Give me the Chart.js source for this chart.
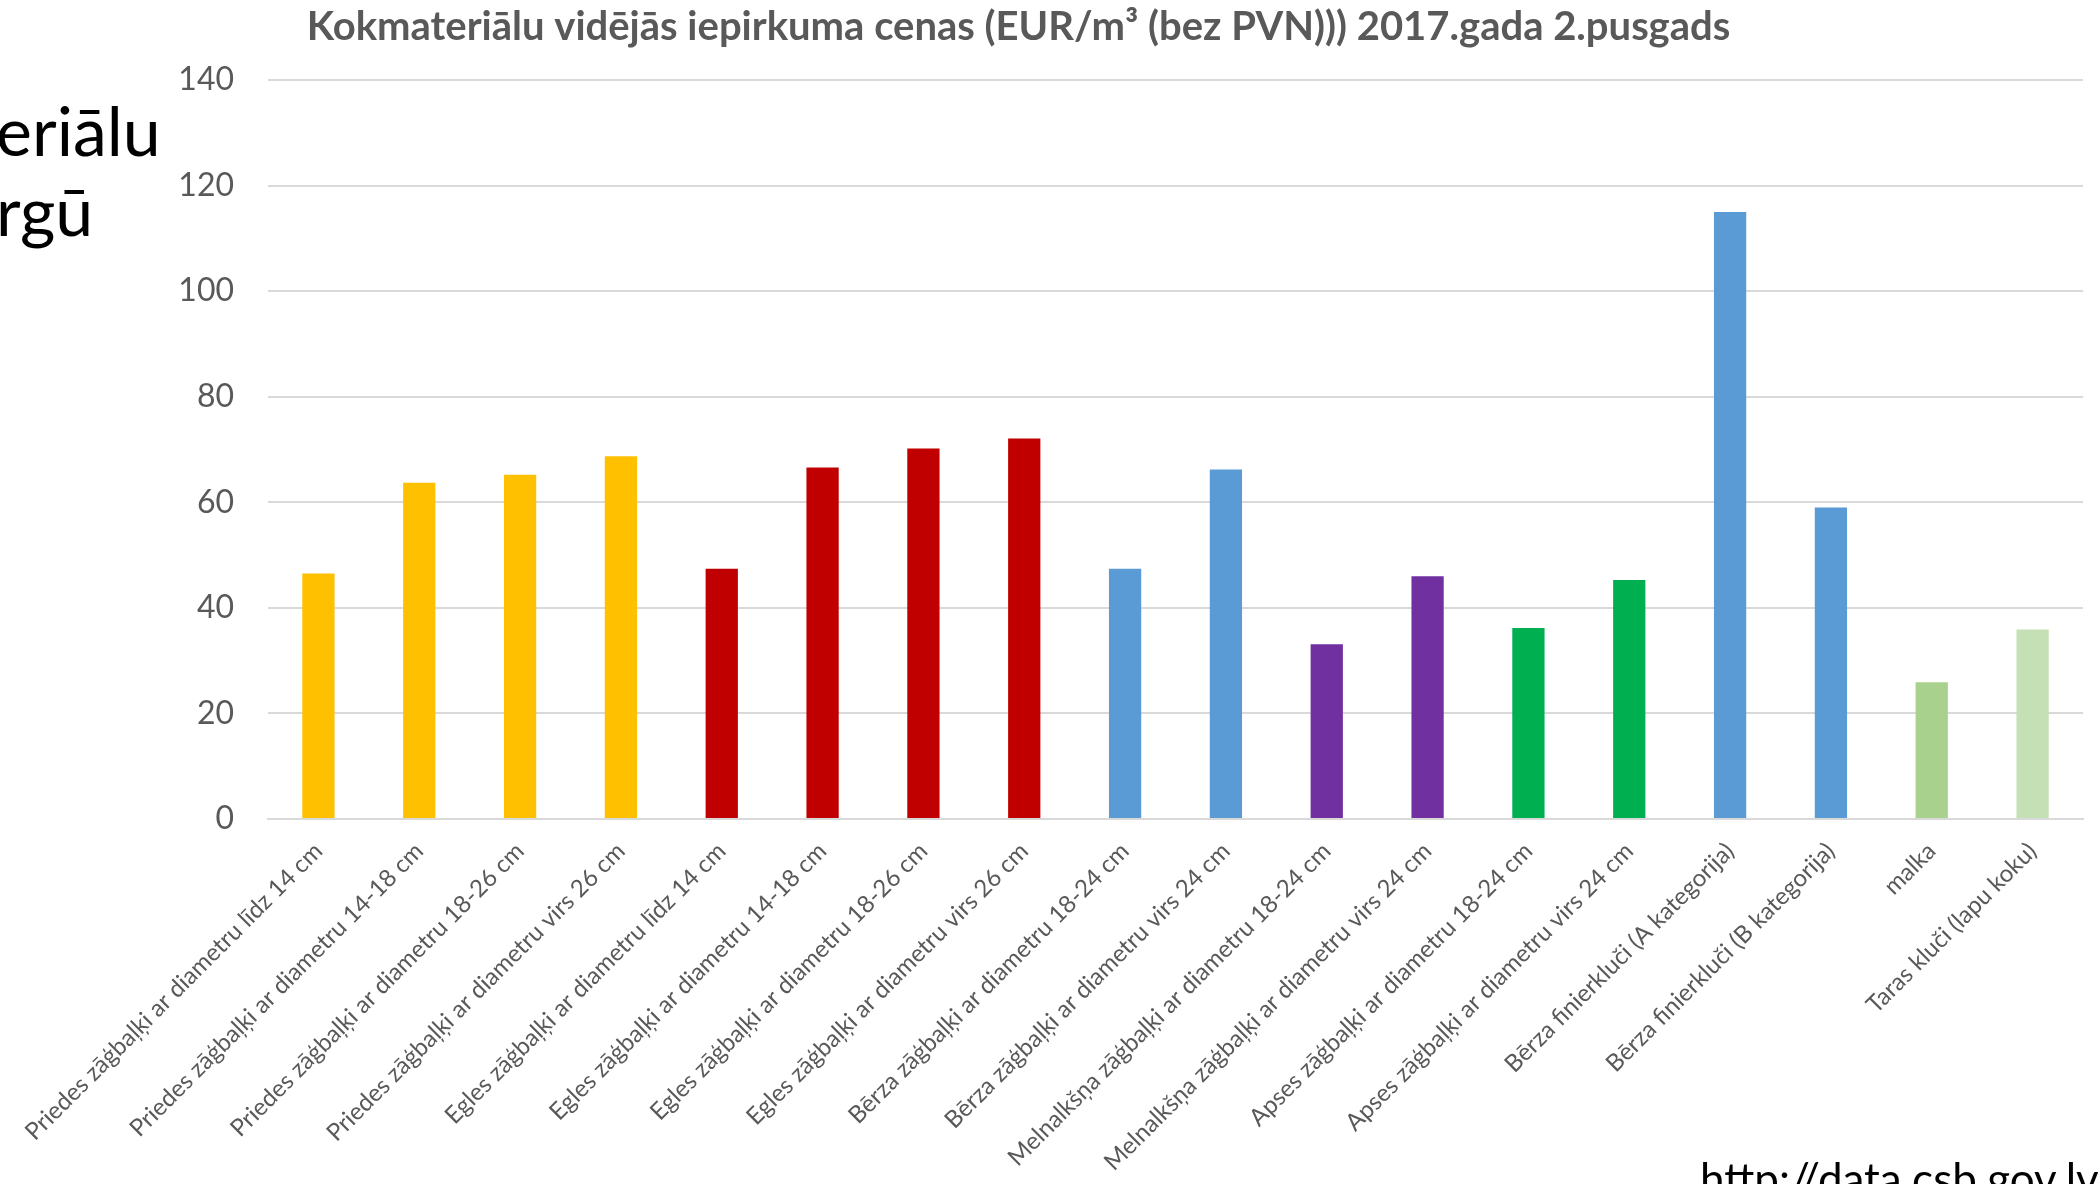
<!DOCTYPE html>
<html>
<head>
<meta charset="utf-8">
<script src="https://cdn.jsdelivr.net/npm/chart.js@4.4.1/dist/chart.umd.min.js"></script>
<style>
  html, body { margin:0; padding:0; width:2098px; height:1184px; overflow:hidden; background:#fff; }
  #wrap { position:absolute; left:-46px; top:0; width:2144px; height:1184px; }
  #side { position:absolute; left:-4px; top:90px; font-family:Lato, sans-serif; font-size:68px; line-height:80px; color:#000; text-align:left; white-space:nowrap; }
  #url { position:absolute; left:1700px; top:1152px; font-family:Lato, sans-serif; font-size:44px; color:#000; white-space:nowrap; }
</style>
</head>
<body>
<div id="wrap"><canvas id="c"></canvas></div>
<div id="side">eriālu<br>rgū</div>
<div id="url">http://data.csb.gov.lv</div>
<script>
const titleText = "Kokmateriālu vidējās iepirkuma cenas (EUR/m³ (bez PVN))) 2017.gada 2.pusgads";
const categories = [
  "Priedes zāģbaļķi ar diametru līdz 14 cm",
  "Priedes zāģbaļķi ar diametru 14-18 cm",
  "Priedes zāģbaļķi ar diametru 18-26 cm",
  "Priedes zāģbaļķi ar diametru virs 26 cm",
  "Egles zāģbaļķi ar diametru līdz 14 cm",
  "Egles zāģbaļķi ar diametru 14-18 cm",
  "Egles zāģbaļķi ar diametru 18-26 cm",
  "Egles zāģbaļķi ar diametru virs 26 cm",
  "Bērza zāģbaļķi ar diametru 18-24 cm",
  "Bērza zāģbaļķi ar diametru virs 24 cm",
  "Melnalkšņa zāģbaļķi ar diametru 18-24 cm",
  "Melnalkšņa zāģbaļķi ar diametru virs 24 cm",
  "Apses zāģbaļķi ar diametru 18-24 cm",
  "Apses zāģbaļķi ar diametru virs 24 cm",
  "Bērza finierkluči (A kategorija)",
  "Bērza finierkluči (B kategorija)",
  "malka",
  "Taras kluči (lapu koku)"
];
const prices = [46.5, 63.7, 65.2, 68.7, 47.4, 66.6, 70.2, 72.1, 47.4, 66.2, 33.1, 46.0, 36.2, 45.3, 115.0, 59.0, 25.9, 35.9];
const barColors = ["#FFC000","#FFC000","#FFC000","#FFC000","#C00000","#C00000","#C00000","#C00000","#5B9BD5","#5B9BD5","#7030A0","#7030A0","#00B050","#00B050","#5B9BD5","#5B9BD5","#A9D18E","#C5E0B4"];
const yTicks = [0, 20, 40, 60, 80, 100, 120, 140];

const canvas = document.getElementById('c');
canvas.width = 2144; canvas.height = 1184;
canvas.style.width = '2144px'; canvas.style.height = '1184px';

new Chart(canvas, {
  type: 'bar',
  data: {
    labels: categories,
    datasets: [{
      data: prices,
      backgroundColor: barColors,
      borderWidth: 0,
      barPercentage: 0.32,
      categoryPercentage: 1.0
    }]
  },
  options: {
    responsive: false,
    animation: false,
    devicePixelRatio: 1,
    layout: { padding: { left: 0, right: 15, top: 0, bottom: 0 } },
    plugins: {
      legend: { display: false },
      tooltip: { enabled: false },
      title: {
        display: true,
        text: titleText,
        color: '#595959',
        font: { family: 'Lato', size: 40, weight: 'bold' },
        padding: { top: 3, bottom: 29 }
      }
    },
    scales: {
      x: {
        grid: { display: false, drawTicks: false },
        border: { display: true, color: '#D9D9D9', width: 2 },
        ticks: {
          autoSkip: false,
          minRotation: 45,
          maxRotation: 45,
          color: '#595959',
          font: { family: 'Lato', size: 24 },
          padding: 18
        },
        afterFit: s => { s.height = 1184 - 819; }
      },
      y: {
        min: 0, max: 140,
        afterBuildTicks: s => { s.ticks = yTicks.map(v => ({ value: v })); },
        grid: { color: '#D9D9D9', lineWidth: 2, drawTicks: false },
        border: { display: false },
        ticks: {
          color: '#595959',
          font: { family: 'Lato', size: 32 },
          padding: 34
        },
        afterFit: s => { s.width = 268 + 46; }
      }
    }
  }
});
</script>
</body>
</html>
